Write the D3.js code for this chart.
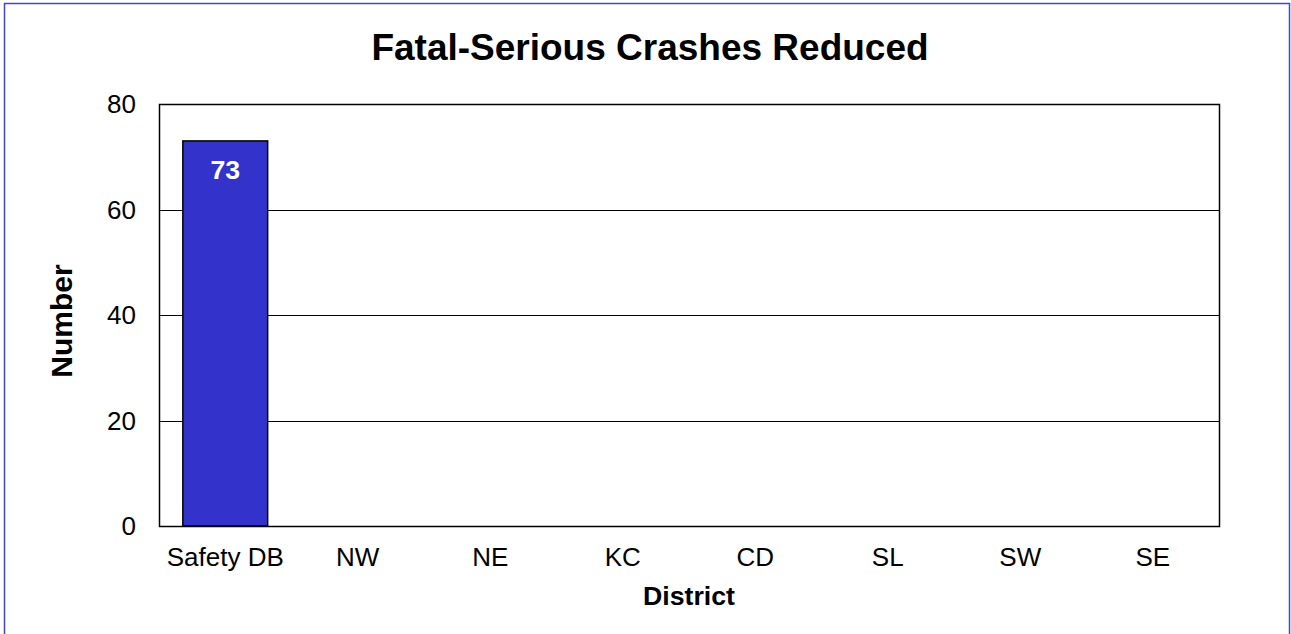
<!DOCTYPE html>
<html>
<head>
<meta charset="utf-8">
<script src="https://cdn.jsdelivr.net/npm/d3@7"></script>
<style>
  body { margin: 0; background: #fff; }
  text { font-family: Arial, "Liberation Sans", sans-serif; }
</style>
</head>
<body>
<script>
var districts = ['Safety DB', 'NW', 'NE', 'KC', 'CD', 'SL', 'SW', 'SE'];
var crashes = [73, 0, 0, 0, 0, 0, 0, 0];
var yTicks = [0, 20, 40, 60, 80];

var width = 1291, height = 634;
var plot = { left: 159, top: 104, right: 1219, bottom: 526 };

var svg = d3.select('body')
  .append('svg')
  .attr('width', width)
  .attr('height', height);

svg.append('rect')
  .attr('x', 4.5)
  .attr('y', 3.5)
  .attr('width', 1285)
  .attr('height', 650)
  .attr('fill', '#fff')
  .attr('stroke', '#4444dd')
  .attr('stroke-width', 1.5);

var x = d3.scaleBand()
  .domain(districts)
  .range([plot.left, plot.right])
  .paddingInner(0.36)
  .paddingOuter(0.18);

var y = d3.scaleLinear()
  .domain([0, 80])
  .range([plot.bottom, plot.top]);

// gridlines
svg.append('g')
  .selectAll('line')
  .data(yTicks.slice(1, -1))
  .enter()
  .append('line')
  .attr('x1', plot.left)
  .attr('x2', plot.right)
  .attr('y1', d => Math.round(y(d)) + 0.5)
  .attr('y2', d => Math.round(y(d)) + 0.5)
  .attr('stroke', '#000')
  .attr('stroke-width', 1);

// plot border
svg.append('rect')
  .attr('x', plot.left + 0.5)
  .attr('y', plot.top + 0.5)
  .attr('width', plot.right - plot.left)
  .attr('height', plot.bottom - plot.top)
  .attr('fill', 'none')
  .attr('stroke', '#000')
  .attr('stroke-width', 1.5);

var barData = crashes.map((v, i) => ({ v: v, k: districts[i] })).filter(d => d.v > 0);

// bars
svg.append('g')
  .selectAll('rect')
  .data(barData)
  .enter()
  .append('rect')
  .attr('x', d => x(d.k))
  .attr('y', d => y(d.v))
  .attr('width', x.bandwidth())
  .attr('height', d => y(0) - y(d.v))
  .attr('fill', '#3333cc')
  .attr('stroke', '#000')
  .attr('stroke-width', 1.5);

svg.append('g')
  .selectAll('text')
  .data(barData)
  .enter()
  .append('text')
  .attr('x', d => x(d.k) + x.bandwidth() / 2)
  .attr('y', d => y(d.v) + 38)
  .attr('text-anchor', 'middle')
  .attr('fill', '#fff')
  .style('font-weight', 'bold')
  .style('font-size', '26.7px')
  .text(d => d.v);

// y axis labels
svg.append('g')
  .selectAll('text')
  .data(yTicks)
  .enter()
  .append('text')
  .attr('x', 136)
  .attr('y', d => y(d) + 9)
  .attr('text-anchor', 'end')
  .style('font-size', '26px')
  .text(d => d);

// x axis labels
svg.append('g')
  .selectAll('text')
  .data(districts)
  .enter()
  .append('text')
  .attr('x', d => x(d) + x.bandwidth() / 2)
  .attr('y', 566)
  .attr('text-anchor', 'middle')
  .style('font-size', '26px')
  .text(d => d);

svg.append('text')
  .attr('x', 650)
  .attr('y', 60)
  .attr('text-anchor', 'middle')
  .style('font-weight', 'bold')
  .style('font-size', '37px')
  .text('Fatal-Serious Crashes Reduced');

svg.append('text')
  .attr('x', 689)
  .attr('y', 605)
  .attr('text-anchor', 'middle')
  .style('font-weight', 'bold')
  .style('font-size', '26.7px')
  .text('District');

svg.append('text')
  .attr('transform', 'translate(72,' + ((plot.top + plot.bottom) / 2 + 6) + ') rotate(-90)')
  .attr('text-anchor', 'middle')
  .style('font-weight', 'bold')
  .style('font-size', '30px')
  .text('Number');
</script>
</body>
</html>
